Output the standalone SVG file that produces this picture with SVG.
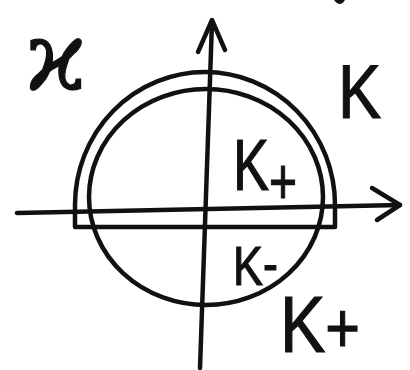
<svg xmlns="http://www.w3.org/2000/svg" width="410" height="370" viewBox="0 0 410 370">
<style>
.ln{fill:none;stroke:#111;stroke-width:4.5;stroke-linecap:round;stroke-linejoin:round}
.lb{font-family:"Liberation Sans",Arial,sans-serif;fill:#111;stroke:#111;stroke-width:1.2}
</style>
<rect width="410" height="370" fill="#fff"/>
<g id="connectors">
<path class="ln" d="M 200 368 L 212 22"/>
<path class="ln" d="M 198 52 L 212 20 L 225 50"/>
<path class="ln" d="M 17 213 L 400 205"/>
<path class="ln" d="M 372 188 L 400 205 L 377 220"/>
</g>
<g id="circle">
<ellipse class="ln" cx="206" cy="197" rx="117" ry="108"/>
</g>
<g id="halfdisk">
<path class="ln" d="M 75 227 L 75 205 A 130 133 0 0 1 335 205 L 335 227 Z"/>
</g>
<path d="M 334 0 Q 340 8 345 0 Z" fill="#111"/>
<g id="kappa"><text class="lb" x="26" y="90" style="font-family:'DejaVu Serif',serif" font-size="96">ϰ</text></g>
<g id="K"><text class="lb" transform="translate(338,118) scale(0.85,1)" font-size="76">K</text></g>
<g id="Kplus1"><text class="lb" transform="translate(233,190) scale(0.75,1)" font-size="72">K<tspan font-size="64" dy="14">+</tspan></text></g>
<g id="Kminus"><text class="lb" transform="translate(233,285) scale(0.8,1)" font-size="56">K<tspan dy="-2">-</tspan></text></g>
<g id="Kplus2"><text class="lb" transform="translate(280,352) scale(0.85,1)" font-size="80">K<tspan font-size="70" dy="0">+</tspan></text></g>
</svg>
